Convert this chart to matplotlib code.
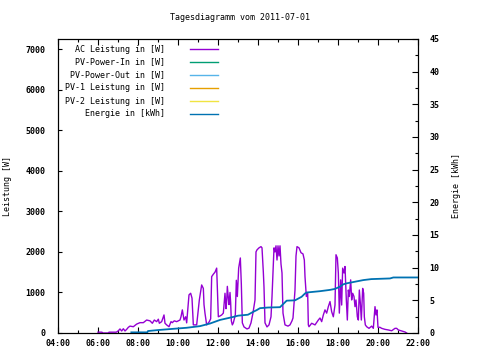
import numpy as np
import matplotlib
matplotlib.use('Agg')
import matplotlib.pyplot as plt
from matplotlib.lines import Line2D
from matplotlib.ticker import MultipleLocator, FuncFormatter

# AC Leistung [W]
ac_time = ['06:00', '06:12', '06:14', '06:32', '06:33', '06:54', '06:57', '07:01', '07:06', '07:11',
           '07:16', '07:21', '07:26', '07:31', '07:36', '07:46', '07:56', '08:06', '08:16', '08:26',
           '08:36', '08:43', '08:49', '08:56', '09:01', '09:04', '09:11', '09:18', '09:21', '09:26',
           '09:33', '09:39', '09:43', '09:46', '09:49', '09:56', '10:06', '10:09', '10:13', '10:18',
           '10:23', '10:26', '10:33', '10:38', '10:42', '10:46', '10:56', '11:04', '11:11', '11:16',
           '11:18', '11:21', '11:26', '11:34', '11:38', '11:41', '11:46', '11:51', '11:56', '12:01',
           '12:06', '12:11', '12:16', '12:21', '12:24', '12:26', '12:28', '12:31', '12:33', '12:36',
           '12:38', '12:40', '12:43', '12:46', '12:49', '12:52', '12:55', '12:58', '13:02', '13:07',
           '13:10', '13:13', '13:18', '13:27', '13:33', '13:39', '13:45', '13:51', '13:54', '13:57',
           '14:03', '14:09', '14:12', '14:16', '14:18', '14:21', '14:27', '14:33', '14:39', '14:42',
           '14:48', '14:51', '14:54', '14:57', '15:00', '15:03', '15:06', '15:09', '15:12', '15:15',
           '15:21', '15:30', '15:36', '15:42', '15:45', '15:51', '15:54', '15:57', '16:03', '16:09',
           '16:15', '16:19', '16:21', '16:25', '16:29', '16:31', '16:33', '16:41', '16:51', '17:01',
           '17:06', '17:11', '17:16', '17:21', '17:26', '17:31', '17:36', '17:41', '17:46', '17:51',
           '17:54', '17:58', '18:01', '18:04', '18:08', '18:11', '18:14', '18:18', '18:21', '18:25',
           '18:28', '18:31', '18:34', '18:38', '18:41', '18:44', '18:48', '18:51', '18:54', '18:58',
           '19:01', '19:04', '19:07', '19:10', '19:14', '19:17', '19:19', '19:22', '19:26', '19:33',
           '19:41', '19:46', '19:51', '19:54', '19:57', '20:00', '20:06', '20:11', '20:21', '20:31',
           '20:41', '20:51', '20:56', '21:01', '21:11', '21:21', '21:26']
ac_watt = [20, 20, 0, 0, 20, 20, 30, 55, 100, 50,
           105, 50, 90, 140, 170, 155, 220, 255, 255, 320,
           300, 240, 320, 280, 340, 240, 280, 445, 240, 200,
           155, 280, 255, 280, 300, 280, 320, 400, 570, 320,
           400, 250, 940, 980, 860, 200, 200, 815, 1185, 1100,
           700, 485, 200, 280, 350, 1390, 1450, 1500, 1600, 400,
           420, 445, 490, 980, 600, 775, 1150, 860, 700, 1000,
           740, 300, 200, 250, 350, 450, 1300, 900, 1600, 1850,
           1200, 250, 150, 100, 120, 250, 500, 815, 2000, 2050,
           2100, 2130, 2100, 1500, 1130, 250, 150, 200, 400, 890,
           2100, 2000, 2150, 1800, 2150, 1900, 2150, 1700, 1480, 490,
           200, 170, 200, 300, 370, 1060, 1900, 2130, 2100, 1980,
           1950, 1800, 1390, 900, 990, 200, 155, 240, 200, 320,
           370, 280, 445, 570, 490, 650, 775, 525, 400, 690,
           1930, 1850, 1480, 490, 1310, 690, 1600, 1480, 1640, 815,
           320, 1060, 900, 1310, 815, 980, 900, 650, 815, 400,
           320, 1060, 740, 320, 1100, 980, 400, 200, 155, 115,
           170, 115, 650, 445, 570, 140, 140, 115, 90, 75,
           55, 115, 115, 75, 50, 25, 0]

# Energie [kWh]
en_time = ['07:40', '08:28', '08:30', '09:00', '09:36', '10:26', '11:06', '11:36', '12:06', '12:45',
           '13:00', '13:30', '13:46', '13:56', '14:06', '14:30', '15:06', '15:16', '15:26', '15:51',
           '16:11', '16:21', '16:26', '17:06', '17:36', '17:51', '18:06', '18:16', '18:26', '18:51',
           '19:16', '19:40', '20:36', '20:46', '22:00']
en_kwh = [0.1, 0.1, 0.3, 0.45, 0.6, 0.8, 1.05, 1.45, 2.0, 2.45,
          2.65, 2.8, 3.25, 3.5, 3.8, 3.9, 3.95, 4.45, 4.95, 5.0,
          5.55, 6.05, 6.2, 6.4, 6.6, 6.75, 7.1, 7.45, 7.6, 7.85,
          8.1, 8.25, 8.35, 8.5, 8.5]

legend_labels = ['AC Leistung in [W]', 'PV-Power-In in [W]', 'PV-Power-Out in [W]',
                 'PV-1 Leistung in [W]', 'PV-2 Leistung in [W]', 'Energie in [kWh]']
legend_colors = ['#9400d3', '#009e73', '#56b4e9', '#e69f00', '#f0e442', '#0072b2']


def to_hours(t):
    h, m = t.split(':')
    return int(h) + int(m) / 60.0


plt.rcParams['font.family'] = ['DejaVu Sans Mono']
plt.rcParams['font.size'] = 6

fig = plt.figure(figsize=(4.8, 3.6), dpi=100)
ax = fig.add_axes([58 / 480, 27 / 360, 360 / 480, 294 / 360])
ax2 = ax.twinx()

ax.plot([to_hours(t) for t in ac_time], ac_watt, color=legend_colors[0], lw=1.0)
ax2.plot([to_hours(t) for t in en_time], en_kwh, color=legend_colors[5], lw=1.3)

ax.set_xlim(4, 22)
ax.set_ylim(0, 7250)
ax2.set_ylim(0, 45)

ax.xaxis.set_major_locator(MultipleLocator(2))
ax.xaxis.set_minor_locator(MultipleLocator(1))
ax.xaxis.set_major_formatter(FuncFormatter(lambda v, p: '%02d:00' % int(round(v))))
ax.yaxis.set_major_locator(MultipleLocator(1000))
ax2.yaxis.set_major_locator(MultipleLocator(5))
ax2.yaxis.set_minor_locator(MultipleLocator(2.5))

ax.tick_params(axis='x', which='both', direction='in', top=True, pad=4)
ax.tick_params(axis='x', which='major', length=4, width=0.8)
ax.tick_params(axis='x', which='minor', length=2, width=0.8)
ax.tick_params(axis='y', which='major', direction='in', length=3, width=0.8, pad=9)
ax2.tick_params(axis='y', which='major', direction='in', length=4, width=0.8, pad=8)
ax2.tick_params(axis='y', which='minor', direction='in', length=2, width=0.8)

for lbl in ax.get_xticklabels() + ax.get_yticklabels() + ax2.get_yticklabels():
    lbl.set_fontweight('bold')

for a in (ax, ax2):
    for s in a.spines.values():
        s.set_linewidth(0.8)

ax.set_ylabel('Leistung [W]')
ax.yaxis.set_label_coords(-46 / 360, 0.5)
ax2.set_ylabel('Energie [kWh]', rotation=90)
ax2.yaxis.set_label_coords(394 / 360, 0.5)

fig.text(0.5, 1 - 18 / 360, 'Tagesdiagramm vom 2011-07-01', ha='center', va='center')

# legend like gnuplot: right aligned text, sample line to the right
for i, (lab, col) in enumerate(zip(legend_labels, legend_colors)):
    yy = 1 - (49 + 13 * i) / 360
    fig.text(165 / 480, yy, lab, ha='right', va='center')
    fig.add_artist(Line2D([190 / 480, 218 / 480], [yy, yy], color=col, lw=1.0))

fig.savefig('out.png', dpi=100)
